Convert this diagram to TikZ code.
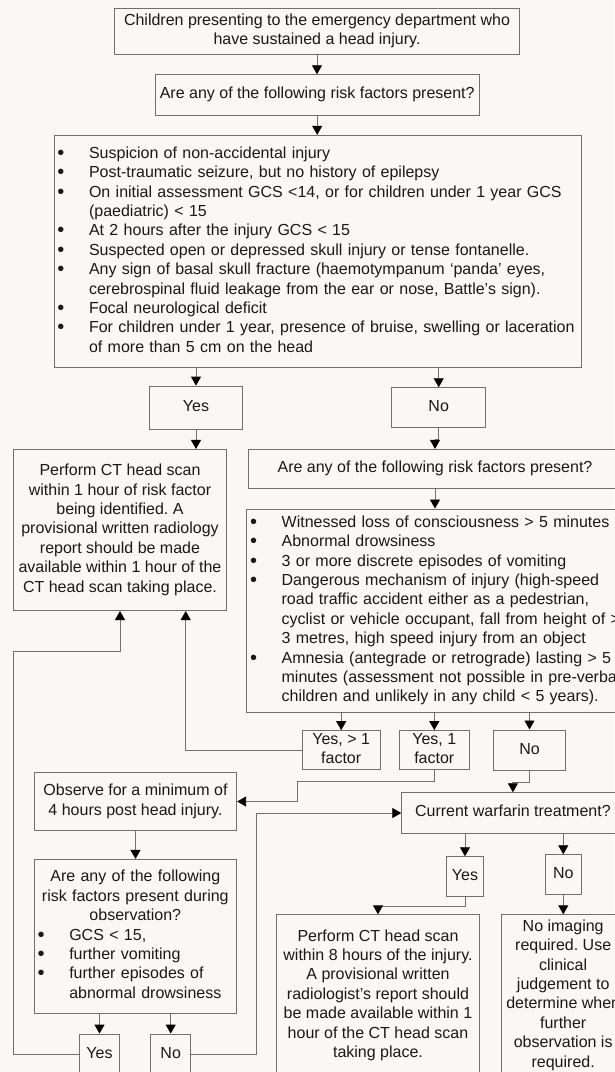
\documentclass[tikz,border=0pt]{standalone}
\usepackage{fontspec}
\setmainfont{Liberation Sans}
\usetikzlibrary{arrows.meta}
\definecolor{bgc}{RGB}{250,248,246}
\definecolor{lnc}{RGB}{112,112,112}
\definecolor{txc}{RGB}{25,25,25}
\frenchspacing
\newcommand\itm{\makebox[31pt][l]{\hspace*{-0.6pt}\raisebox{-1pt}{\scalebox{1.25}{\textbullet}}}}
\newcommand\cnt{\hspace*{31pt}}
\newcommand\cl[1]{\makebox[194pt][c]{#1}}
\begin{document}
\begin{tikzpicture}[x=1pt,y=-1pt,
  box/.style={draw=lnc, line width=0.9pt, fill=bgc, text=txc, inner xsep=3pt, inner ysep=0pt,
    font=\fontsize{16}{19.4}\selectfont\frenchspacing, align=center},
  lbox/.style={box, align=left, inner xsep=4pt},
  arr/.style={draw=lnc, line width=0.9pt, -{Triangle[length=9pt,width=10pt,color=black]}}]
\useasboundingbox (0,0) rectangle (614,1072);
\fill[bgc] (0,0) rectangle (614,1072);

\node[box, minimum width=405.4pt, minimum height=45.7pt] (top) at (317,31.2)
  {\strut Children presenting to the emergency department who\\have sustained a head injury.\strut};
\node[box, minimum width=324.3pt, minimum height=40.6pt] (q1) at (317.2,95)
  {\strut Are any of the following risk factors present?};
\node[lbox, minimum width=527.3pt, minimum height=232.4pt, text width=519.3pt] (list1) at (317.7,251.5)
  {\strut\itm Suspicion of non-accidental injury\\
   \itm Post-traumatic seizure, but no history of epilepsy\\
   \itm On initial assessment GCS <14, or for children under 1 year GCS\\
   \cnt (paediatric) < 15\\
   \itm At 2 hours after the injury GCS < 15\\
   \itm Suspected open or depressed skull injury or tense fontanelle.\\
   \itm Any sign of basal skull fracture (haemotympanum ‘panda’ eyes,\\
   \cnt cerebrospinal fluid leakage from the ear or nose, Battle’s sign).\\
   \itm Focal neurological deficit\\
   \itm For children under 1 year, presence of bruise, swelling or laceration\\
   \cnt of more than 5 cm on the head\strut};
\node[box, minimum width=93.6pt, minimum height=43.3pt] (yes1) at (196,407.7) {\strut Yes};
\node[box, minimum width=93.6pt, minimum height=40pt] (no1) at (438.7,407.7) {\strut No};
\node[box, minimum width=213pt, minimum height=161.2pt] (ct1) at (120,530)
  {\strut Perform CT head scan\\within 1 hour of risk factor\\being identified. A\\provisional written radiology\\report should be made\\available within 1 hour of the\\CT head scan taking place.\strut};
\node[box, minimum width=374pt, minimum height=38.7pt] (q2) at (435,468.7)
  {\strut Are any of the following risk factors present?};
\node[lbox, minimum width=393.3pt, minimum height=203.5pt, text width=385.3pt] (list2) at (443.3,610.7)
  {\strut\itm Witnessed loss of consciousness > 5 minutes\\
   \itm Abnormal drowsiness\\
   \itm 3 or more discrete episodes of vomiting\\
   \itm Dangerous mechanism of injury (high-speed\\
   \cnt road traffic accident either as a pedestrian,\\
   \cnt cyclist or vehicle occupant, fall from height of >\\
   \cnt 3 metres, high speed injury from an object\\
   \itm Amnesia (antegrade or retrograde) lasting > 5\\
   \cnt minutes (assessment not possible in pre-verbal\\
   \cnt children and unlikely in any child < 5 years).\strut};
\node[box, minimum width=77.7pt, minimum height=38pt] (y2a) at (341.2,750) {\strut Yes, > 1\\factor\strut};
\node[box, minimum width=70pt, minimum height=38pt] (y2b) at (434.3,750) {\strut Yes, 1\\factor\strut};
\node[box, minimum width=72.4pt, minimum height=40.7pt] (n2) at (529.5,750.3) {\strut No};
\node[box, minimum width=202.4pt, minimum height=57.6pt] (obs) at (135.5,801.5)
  {\strut Observe for a minimum of\\4 hours post head injury.\strut};
\node[box, minimum width=222.4pt, minimum height=40.6pt] (warf) at (512.9,813)
  {\strut Current warfarin treatment?};
\node[lbox, minimum width=202.4pt, minimum height=154pt, text width=194.4pt] (obsq) at (135.5,936.3)
  {\cl{\strut Are any of the following}\\
   \cl{risk factors present during}\\
   \cl{observation?}\\
   \itm GCS < 15,\\
   \itm further vomiting\\
   \itm further episodes of\\
   \cnt abnormal drowsiness\strut};
\node[box, minimum width=40.7pt, minimum height=41pt] (yes3) at (99.5,1054.5) {\strut Yes};
\node[box, minimum width=40pt, minimum height=41pt] (no3) at (170.7,1054.5) {\strut No};
\node[box, minimum width=36.6pt, minimum height=40pt] (wyes) at (465,876.7) {\strut Yes};
\node[box, minimum width=35.3pt, minimum height=39.6pt] (wno) at (563.3,874.5) {\strut No};
\node[box, minimum width=202.5pt, minimum height=161.3pt] (ct2) at (378,995.4)
  {\strut Perform CT head scan\\within 8 hours of the injury.\\A provisional written\\radiologist’s report should\\be made available within 1\\hour of the CT head scan\\taking place.\strut};
\node[box, minimum width=123.8pt, minimum height=161.3pt] (noimg) at (563.2,995.4)
  {\strut No imaging\\required. Use\\clinical\\judgement to\\determine when\\further\\observation is\\required.\strut};

\coordinate (lp) at (13.3,651);
\coordinate (jp) at (297.3,781);
\coordinate (rp) at (256.5,813);

\draw[arr] (top.south) -- (top.south |- q1.north);
\draw[arr] (q1.south) -- (q1.south |- list1.north);
\draw[arr] (list1.south -| yes1) -- (yes1.north);
\draw[arr] (list1.south -| no1) -- (no1.north);
\draw[arr] (yes1.south) -- (yes1.south |- ct1.north);
\draw[arr] (no1.south) -- ++(0,11.6) -| (q2.north);
\draw[arr] (q2.south) -- (q2.south |- list2.north);
\draw[arr] (list2.south -| y2a) -- (y2a.north);
\draw[arr] (list2.south -| y2b) -- (y2b.north);
\draw[arr] (list2.south -| n2) -- (n2.north);
\draw[arr] (y2a.west) -| ([xshift=65.7pt]ct1.south);
\draw[arr] (yes3.west) -| (lp) -| (ct1.south);
\draw[arr] (y2b.south) |- (jp) |- (obs.east);
\draw[arr] (n2.south) -- ++(0,11) -| (warf.north);
\draw[arr] (obs.south) -- (obs.south |- obsq.north);
\draw[arr] (obsq.south -| yes3) -- (yes3.north);
\draw[arr] (obsq.south -| no3) -- (no3.north);
\draw[arr] (no3.east) -| (rp) -- (warf.west);
\draw[arr] (warf.south -| wyes) -- (wyes.north);
\draw[arr] (warf.south -| wno) -- (wno.north);
\draw[arr] (wyes.south) -- ++(0,9.3) -| (ct2.north);
\draw[arr] (wno.south) -- (wno.south |- noimg.north);
\end{tikzpicture}
\end{document}
